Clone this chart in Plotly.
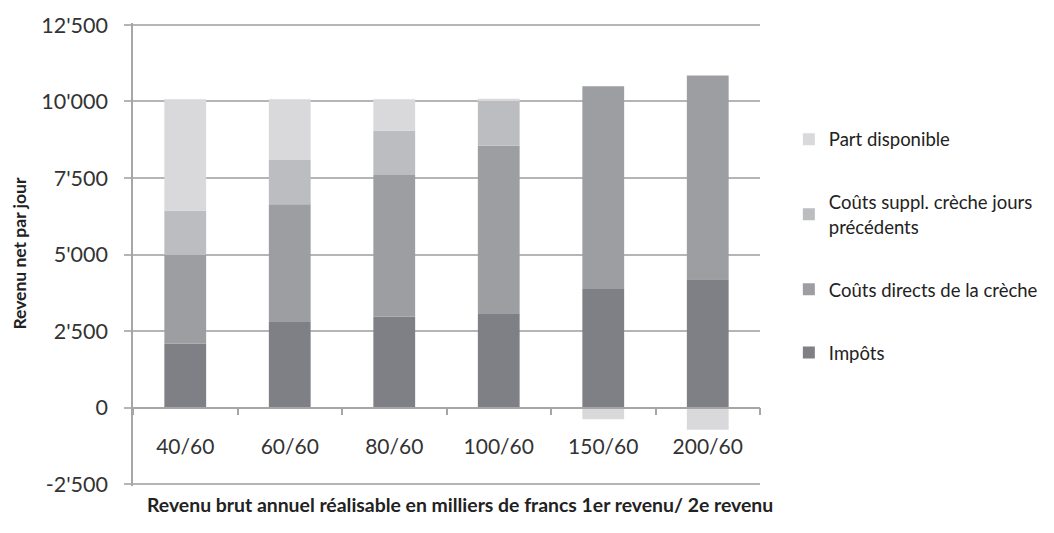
import plotly.graph_objects as go

categories = ["40/60", "60/60", "80/60", "100/60", "150/60", "200/60"]
impots = [2080, 2820, 2970, 3080, 3870, 4190]
couts_directs = [2900, 3820, 4630, 5470, 6630, 6660]
couts_suppl = [1460, 1450, 1450, 1480, 0, 0]
part_disponible = [3630, 1980, 1020, 60, -380, -730]

series_names = ["Impôts", "Coûts directs de la crèche",
                "Coûts suppl. crèche jours<br>précédents", "Part disponible"]
series_values = [impots, couts_directs, couts_suppl, part_disponible]
series_colors = ["#7f8085", "#9d9ea2", "#bcbdc1", "#d9d9db"]
legend_ranks = [4, 3, 2, 1]

y_ticks = [-2500, 0, 2500, 5000, 7500, 10000, 12500]
y_tick_labels = ["-2'500", "0", "2'500", "5'000", "7'500", "10'000", "12'500"]

FONT = "Lato, Carlito, 'Open Sans', sans-serif"

fig = go.Figure()
for name, vals, col, rank in zip(series_names, series_values, series_colors, legend_ranks):
    fig.add_trace(go.Bar(x=categories, y=vals, name=name, marker_color=col,
                         marker_line_width=0, legendgroup=name, legendrank=rank))

# small padding beyond the outer ticks so their grid lines are drawn
ymin, ymax = -2565, 12565
fig.update_layout(
    barmode="relative",
    bargap=0.6,
    width=1054, height=533,
    margin=dict(l=125, r=302, t=15, b=55, autoexpand=False),
    plot_bgcolor="white", paper_bgcolor="white",
    font=dict(family=FONT, size=20, color="#333333"),
    showlegend=True,
    legend=dict(x=1.046, y=0.789, xanchor="left", yanchor="top",
                traceorder="grouped", tracegroupgap=36,
                font=dict(size=18.5, color="#222222"),
                itemwidth=30, bgcolor="rgba(0,0,0,0)"),
    xaxis=dict(anchor="free", position=(0 - ymin) / (ymax - ymin), automargin=False,
               showline=True, linecolor="#a6a6a6", linewidth=1.5,
               ticks="outside", tickson="boundaries", ticklen=7,
               tickcolor="#a6a6a6", tickwidth=1.5, ticklabelstandoff=21,
               showgrid=False, tickfont=dict(size=21, color="#333333")),
    yaxis=dict(range=[ymin, ymax], tickvals=y_ticks, ticktext=y_tick_labels,
               automargin=False,
               showgrid=True, gridcolor="#b5b5b5", gridwidth=1.5,
               zeroline=False, showline=True, linecolor="#a6a6a6", linewidth=1.5,
               ticks="outside", ticklen=7, tickcolor="#b5b5b5", tickwidth=1.5,
               ticklabelstandoff=12, tickfont=dict(size=21.5, color="#333333")),
)

fig.add_annotation(text="<b>Revenu brut annuel réalisable en milliers de francs 1er revenu/ 2e revenu</b>",
                   xref="paper", yref="paper", x=0.5215, y=-0.041,
                   xanchor="center", yanchor="middle", showarrow=False,
                   font=dict(size=19.4, color="#222222"))
fig.add_annotation(text="<b>Revenu net par jour</b>",
                   xref="paper", yref="paper", x=-0.181, y=0.503,
                   xanchor="center", yanchor="middle", showarrow=False,
                   textangle=-90, font=dict(size=17.5, color="#222222"))

fig.write_html("out.html")
